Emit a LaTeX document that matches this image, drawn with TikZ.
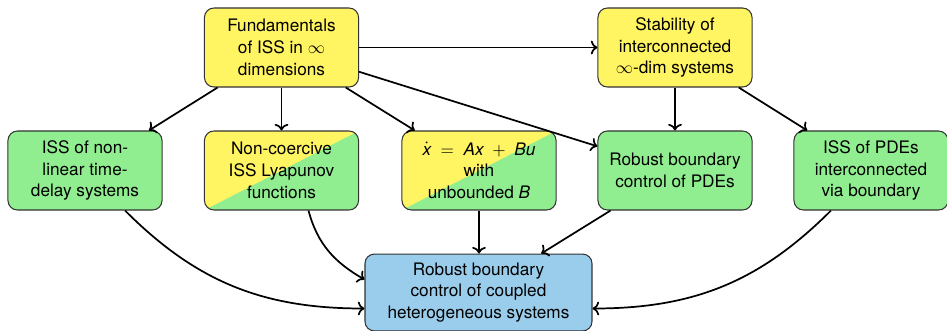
\documentclass[tikz,border=0pt]{standalone}
\usepackage{fontspec}
\setmainfont{TeX Gyre Heros}
\usetikzlibrary{calc,arrows.meta}
\definecolor{boxyellow}{HTML}{FFF462}
\definecolor{boxgreen}{HTML}{90EE90}
\definecolor{boxblue}{HTML}{99CDEB}
\begin{document}
\begin{tikzpicture}[x=0.581pt,y=0.581pt,
  topic/.style={draw=black!80, line width=0.6pt, rounded corners=5.5pt,
    minimum width=89.5pt, minimum height=45.9pt, align=center, inner sep=2pt,
    font=\fontsize{10}{12.6}\selectfont},
  yel/.style={topic, fill=boxyellow},
  grn/.style={topic, fill=boxgreen},
  split/.style={topic, path picture={
    \fill[boxgreen, sharp corners] (path picture bounding box.south west) rectangle (path picture bounding box.north east);
    \fill[boxyellow, sharp corners] (path picture bounding box.south west) -- (path picture bounding box.north west)
      -- (path picture bounding box.north east) -- cycle;}},
  goal/.style={topic, fill=boxblue, minimum width=131.9pt, minimum height=44.7pt},
  link/.style={-{To}, line width=1pt}]
\useasboundingbox (0,0) rectangle (947,-331);

% top row
\node[yel] (fund) at (281.5,-47.5) {Fundamentals\\of ISS in $\infty$\\dimensions};
\node[yel] (stab) at (675,-47.5) {Stability of\\interconnected\\$\infty$-dim systems};

% middle row
\node[grn]   (b1) at (85,-170.5)  {ISS of non-\\linear time-\\delay systems};
\node[split] (b2) at (281.5,-170.5) {Non-coercive\\ISS Lyapunov\\functions};
\node[split] (b3) at (479,-170.5) {$\dot{\textit{x}} \;=\; \textit{Ax} \;+\; \textit{Bu}$\\with\\unbounded \textit{B}};
\node[grn]   (b4) at (675,-170.5) {Robust boundary\\control of PDEs};
\node[grn]   (b5) at (871,-170.5) {ISS of PDEs\\interconnected\\via boundary};

% goal
\node[goal] (goal) at (478.5,-292.5) {Robust boundary\\control of coupled\\heterogeneous systems};

% connectors
\draw[link] (fund) -- (stab);
\draw[link] (fund) -- (b1);
\draw[link] (fund) -- (b2);
\draw[link] (fund) -- (b3);
\draw[link] (fund) -- (b4);
\draw[link] (stab) -- (b4);
\draw[link] (stab) -- (b5);
\draw[link] (b1) to[out=-45,in=180] ($(goal.west)+(0,-16)$);
\draw[link] (b2.-56) to[out=-75,in=150] ($(goal.west)+(0,13)$);
\draw[link] (b3.south) -- (b3.south |- goal.north);
\draw[link] (b4) -- (goal);
\draw[link] (b5) to[out=-135,in=0] ($(goal.east)+(0,-16)$);
\end{tikzpicture}
\end{document}
